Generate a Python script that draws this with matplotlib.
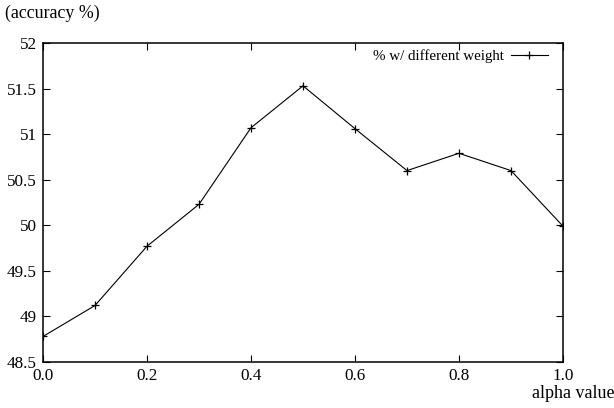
import matplotlib

matplotlib.use("Agg")
import matplotlib.pyplot as plt

# accuracy vs. alpha
alpha = [0.0, 0.1, 0.2, 0.3, 0.4, 0.5, 0.6, 0.7, 0.8, 0.9, 1.0]
accuracy = [48.78, 49.12, 49.77, 50.23, 51.07, 51.53, 51.06, 50.60, 50.79, 50.60, 49.99]
x_ticks = [0.0, 0.2, 0.4, 0.6, 0.8, 1.0]
x_tick_labels = ["0.0", "0.2", "0.4", "0.6", "0.8", "1.0"]
y_ticks = [48.5, 49, 49.5, 50, 50.5, 51, 51.5, 52]
y_tick_labels = ["48.5", "49", "49.5", "50", "50.5", "51", "51.5", "52"]

plt.rcParams["font.family"] = ["Liberation Serif", "DejaVu Serif"]
plt.rcParams["font.size"] = 12.3

fig = plt.figure(figsize=(6.14, 4.08), dpi=100)
ax = fig.add_axes([43 / 614, 1 - 362 / 408, 520 / 614, 319 / 408])

ax.plot(alpha, accuracy, color="black", linewidth=0.8, marker="+",
        markersize=6, markeredgewidth=0.9, label="% w/ different weight")

ax.set_xlim(0.0, 1.0)
ax.set_ylim(48.5, 52)
ax.set_xticks(x_ticks)
ax.set_xticklabels(x_tick_labels)
ax.set_yticks(y_ticks)
ax.set_yticklabels(y_tick_labels)
ax.tick_params(direction="in", top=True, right=True, length=5, width=0.8,
               labelsize=12.3)
ax.tick_params(axis="y", pad=4.5)
ax.tick_params(axis="x", pad=4)
for s in ax.spines.values():
    s.set_linewidth(1.1)

fig.text(5 / 614, 1 - 13 / 408, "(accuracy %)", ha="left", va="center", fontsize=12.9)
fig.text(614 / 614, 1 - 393 / 408, "alpha value", ha="right", va="center", fontsize=12.9)

ax.legend(loc="upper right", frameon=False, markerfirst=False, fontsize=10.8,
          handlelength=2.5, handletextpad=0.47, borderpad=0, borderaxespad=0,
          bbox_to_anchor=((548 - 43) / 520, 1 - (49 - 43) / 319))

fig.savefig("out.png", dpi=100)
